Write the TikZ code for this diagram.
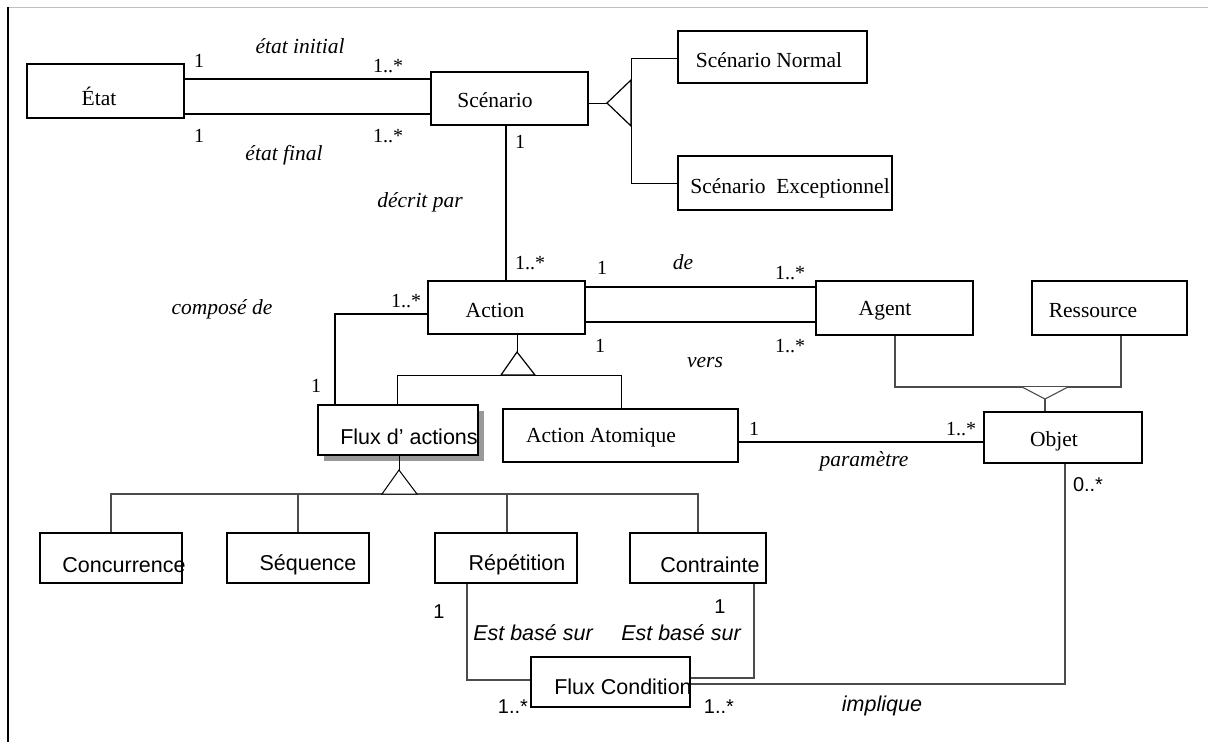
\documentclass[tikz,border=0pt]{standalone}
\usepackage{fontspec}
\setmainfont{Liberation Serif}
\setsansfont{Liberation Sans}
\usetikzlibrary{fit}

\tikzset{
  box/.style={draw, line width=1.2pt, inner sep=0pt, fill=white},
  txt/.style={inner sep=0pt, font=\fontsize{21.5}{24}\selectfont},
  stxt/.style={inner sep=0pt, font=\sffamily\fontsize{21.5}{24}\selectfont},
  role/.style={inner sep=0pt, font=\itshape\fontsize{21.5}{24}\selectfont},
  srole/.style={inner sep=0pt, font=\sffamily\itshape\fontsize{21.5}{24}\selectfont},
  mult/.style={inner sep=0pt, font=\fontsize{20}{24}\selectfont},
  smult/.style={inner sep=0pt, font=\sffamily\fontsize{20}{24}\selectfont},
  assoc/.style={line width=1.4pt},
  dbl/.style={line width=2pt},
  gen/.style={line width=1pt},
  grayline/.style={line width=1.1pt, draw=black!70},
  genhead/.style={line width=1.2pt, fill=white, line join=miter},
}

\begin{document}
\begin{tikzpicture}[x=1pt,y=-1pt]
\useasboundingbox (0,0) rectangle (1208,742);

% page frame
\draw[black!25, line width=1pt] (8,7) -- (1208,7);
\draw[black, line width=1.2pt] (8,7) -- (8,742);

% ---- classes ----
\node[box, fit={(27,64) (184,118)}] (etat) {};
\node[box, fit={(431,72) (588,125)}] (scen) {};
\node[box, fit={(678,31) (867,83)}] (scnorm) {};
\node[box, line width=2pt, fit={(678,156) (892,210)}] (scexc) {};
\node[box, fit={(428,281) (585,334)}] (action) {};
\node[box, fit={(816,281) (973,335)}] (agent) {};
\node[box, fit={(1032,281) (1187,335)}] (ress) {};
\node[box, fit={(984,412) (1142,463)}] (objet) {};
\fill[black!40] (324,411) rectangle (484,461);
\node[box, fit={(318,405) (478,455)}] (flux) {};
\node[box, fit={(503,409) (738,462)}] (atom) {};
\node[box, fit={(40,533) (182,583)}] (conc) {};
\node[box, fit={(227,533) (369,583)}] (seq) {};
\node[box, fit={(435,533) (577,583)}] (rep) {};
\node[box, fit={(630,533) (766,583)}] (contr) {};
\node[box, fit={(531,657) (690,707)}] (fcond) {};

% ---- class names ----
\node[txt] (etat-t) at (99,96) {État};
\node[txt] (scen-t) at (495,100) {Scénario};
\node[txt] (scnorm-t) at (769,60) {Scénario Normal};
\node[txt] (scexc-t) at (790,188) {Scénario\ \ Exceptionnel};
\node[txt] (action-t) at (495,310) {Action};
\node[txt] (agent-t) at (885,311) {Agent};
\node[txt] (ress-t) at (1093,311) {Ressource};
\node[txt] (objet-t) at (1054,441) {Objet};
\node[stxt] (flux-t) at (409,437) {Flux d’ actions};
\node[txt] (atom-t) at (601,438) {Action Atomique};
\node[stxt] (conc-t) at (124,565) {Concurrence};
\node[stxt] (seq-t) at (308,565) {Séquence};
\node[stxt] (rep-t) at (517,565) {Répétition};
\node[stxt] (contr-t) at (710,565) {Contrainte};
\node[stxt] (fcond-t) at (623,687) {Flux Condition};

% ---- junction points ----
\coordinate (g1) at (607,103);
\coordinate (g1a) at (631,80);
\coordinate (g1b) at (631,126);
\coordinate (g2) at (517,352);
\coordinate (g2a) at (501,375);
\coordinate (g2b) at (535,375);
\coordinate (g3) at (399,470);
\coordinate (g3a) at (382,494);
\coordinate (g3b) at (417,494);
\coordinate (g4) at (1045,399);
\coordinate (g4a) at (1022,387);
\coordinate (g4b) at (1068,387);

% ---- associations ----
\draw[dbl] (etat.east |- 0,79) -- (scen.west |- 0,79);
\draw[dbl] (etat.east |- 0,114) -- (scen.west |- 0,114);
\draw[assoc] (506,125) -- (action.north -| 506,0);
\draw[assoc] (action.east |- 0,287) -- (agent.west |- 0,287);
\draw[assoc] (action.east |- 0,322) -- (agent.west |- 0,322);
\draw[assoc] (action.west |- 0,314) -| (flux.north -| 335,0);
\draw[assoc] (atom.east |- 0,442) -- (objet.west |- 0,442);
\draw[grayline] (objet.south -| 1065,0) |- (fcond.east |- 0,684);
\draw[grayline] (rep.south -| 467,0) |- (fcond.west |- 0,680);
\draw[grayline] (contr.south -| 754,0) |- (fcond.east |- 0,678);

% ---- generalisations ----
\draw[gen] (scen.east |- g1) -- (g1);
\draw[gen] (scnorm.west |- 0,58) -| (631,183) -- (scexc.west |- 0,183);
\draw[genhead] (g1) -- (g1a) -- (g1b) -- cycle;

\draw[gen] (action.south -| g2) -- (g2);
\draw[gen] (flux.north -| 397,0) |- (621,375) -- (atom.north -| 621,0);
\draw[genhead] (g2) -- (g2a) -- (g2b) -- cycle;

\draw[gen] (flux.south -| g3) -- (g3);
\draw[grayline] (conc.north -| 111,0) |- (698,494) -- (contr.north -| 698,0);
\draw[grayline] (seq.north -| 298,0) -- (298,494);
\draw[grayline] (rep.north -| 507,0) -- (507,494);
\draw[genhead, line width=1pt] (g3) -- (g3a) -- (g3b) -- cycle;

\draw[grayline] (agent.south -| 895,0) |- (1121,387) -- (ress.south -| 1121,0);
\draw[grayline] (g4) -- (objet.north -| g4);
\draw[grayline, fill=white] (g4a) -- (g4) -- (g4b);

% ---- roles and multiplicities ----
\node[mult] (m1) at (199,61) {1};
\node[role] (r1) at (300,46) {état initial};
\node[mult] (m2) at (388,66) {1..*};
\node[mult] (m3) at (199,136) {1};
\node[role] (r2) at (284,155) {état final};
\node[mult] (m4) at (388,136) {1..*};
\node[mult] (m5) at (520,142) {1};
\node[role] (r3) at (420,202) {décrit par};
\node[mult] (m6) at (530,263) {1..*};
\node[mult] (m7) at (602,268) {1};
\node[role] (r4) at (683,262) {de};
\node[mult] (m8) at (790,273) {1..*};
\node[mult] (m9) at (600,346) {1};
\node[role] (r5) at (705,363) {vers};
\node[mult] (m10) at (790,346) {1..*};
\node[mult] (m11) at (406,301) {1..*};
\node[role] (r6) at (222,309) {composé de};
\node[mult] (m12) at (316,386) {1};
\node[mult] (m13) at (754,429) {1};
\node[mult] (m14) at (961,429) {1..*};
\node[role] (r7) at (864,461) {paramètre};
\node[smult] (m15) at (1088,485) {0..*};
\node[srole] (r8) at (882,706) {implique};
\node[smult] (m16) at (439,612) {1};
\node[srole] (r9) at (533,633) {Est basé sur};
\node[smult] (m17) at (720,607) {1};
\node[srole] (r10) at (681,633) {Est basé sur};
\node[smult] (m18) at (513,707) {1..*};
\node[smult] (m19) at (719,707) {1..*};

\end{tikzpicture}
\end{document}
